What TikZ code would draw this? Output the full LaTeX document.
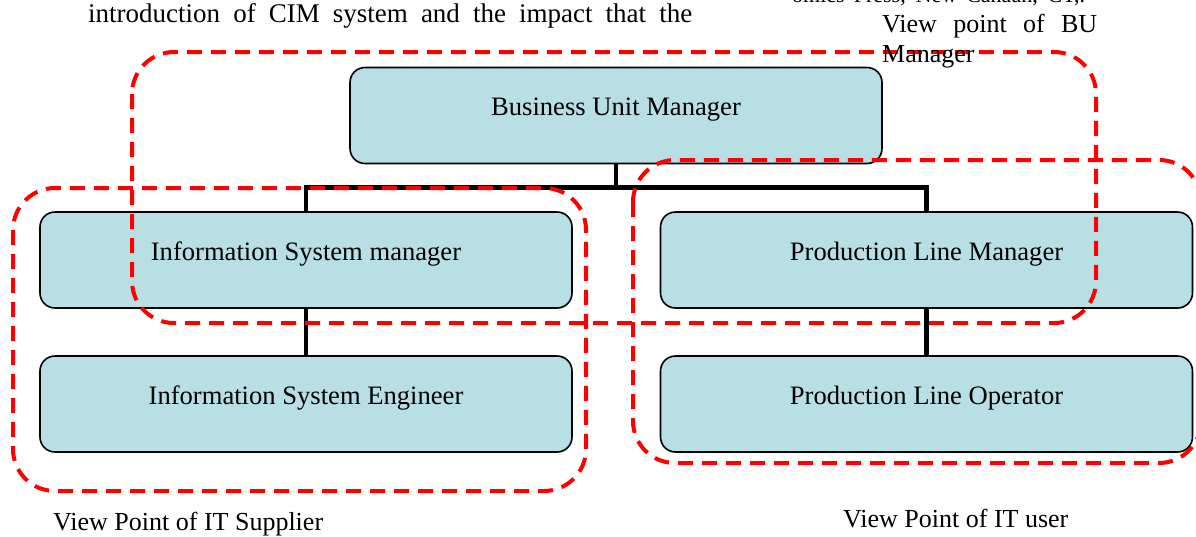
\documentclass[tikz,border=0pt]{standalone}
\usepackage{fontspec}
\setmainfont{Liberation Serif}
\definecolor{boxfill}{RGB}{184,223,227}
\definecolor{regionred}{RGB}{255,0,0}
\tikzset{
  orgbox/.style={draw=black, line width=1.6pt, fill=boxfill, rounded corners=15pt,
    minimum width=532pt, minimum height=96pt, inner sep=0pt},
  boxtext/.style={anchor=base, inner sep=0pt, font=\fontsize{26.6}{30}\selectfont},
  plaintext/.style={anchor=base west, inner sep=0pt, font=\fontsize{26}{30}\selectfont},
  conn/.style={draw=black, line width=4.7pt},
  viewregion/.style={draw=regionred, line width=4pt, dash pattern=on 15pt off 9pt, rounded corners=42pt}
}
\begin{document}
\begin{tikzpicture}[x=1pt,y=-1pt]
\useasboundingbox (0,0) rectangle (1196,536);
% boxes
\node[orgbox] (bum) at (616,115.5) {};
\node[orgbox] (ism) at (306,260) {};
\node[orgbox] (ise) at (306,404) {};
\node[orgbox] (plm) at (926.5,260) {};
\node[orgbox] (plo) at (926.5,404) {};
\node[boxtext] (bumt) at (bum.center) {Business Unit Manager};
\node[boxtext] (ismt) at (ism.center) {Information System manager};
\node[boxtext] (iset) at (ise.center) {Information System Engineer};
\node[boxtext] (plmt) at (plm.center) {Production Line Manager};
\node[boxtext] (plot) at (plo.center) {Production Line Operator};
% connectors
\coordinate (j) at (616,187.5);
\draw[conn] (bum.south) -- (j);
\draw[conn] (ism.north) |- (j) -| (plm.north);
\draw[conn] (ism.south) -- (ise.north);
\draw[conn] (plm.south) -- (plo.north);
% view regions
\draw[viewregion] (132,52) rectangle (1096,323);
\draw[viewregion] (13,188) rectangle (586,491);
\draw[viewregion] (633,160) rectangle (1201,463);
% texts
\node[plaintext, font=\fontsize{27}{30}\selectfont] (top1) at (88,22) {\makebox[604pt][s]{introduction of CIM system and the impact that the}};
\node[plaintext, font=\fontsize{22}{26}\selectfont] (top2) at (792,2) {\makebox[293pt][s]{omics Press, New Canaan, CT,.}};
\node[plaintext] (bu1) at (882,32) {\makebox[215pt][s]{View point of BU}};
\node[plaintext] (bu2) at (882,62) {Manager};
\node[plaintext] (sup) at (53,530) {View Point of IT Supplier};
\node[plaintext] (usr) at (843,527) {View Point of IT user};
\end{tikzpicture}
\end{document}
